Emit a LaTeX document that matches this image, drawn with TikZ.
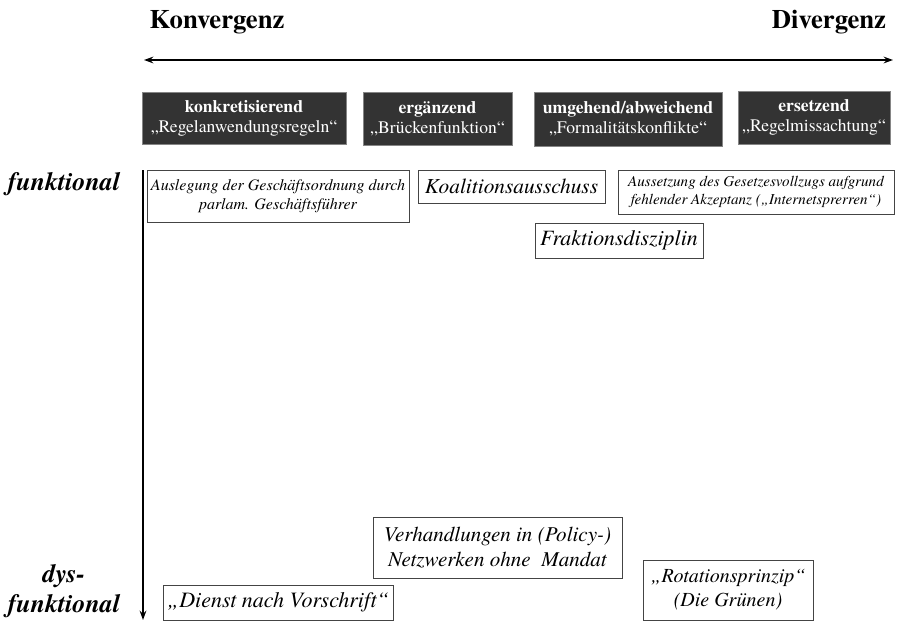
\documentclass[tikz,border=0pt]{standalone}
\usepackage{fontspec}
\setmainfont{texgyretermes}[Extension=.otf, UprightFont=*-regular, BoldFont=*-bold, ItalicFont=*-italic, BoldItalicFont=*-bolditalic]
\usetikzlibrary{arrows.meta}
\definecolor{darkbox}{HTML}{333333}
\definecolor{frame}{HTML}{444444}
\tikzset{
  catbox/.style 2 args={fill=darkbox, draw=darkbox!60, line width=0.5pt, text=white, align=center, inner sep=0pt,
    minimum width=#1*0.75pt, minimum height=#2*0.75pt, font=\fontsize{13.2}{15}\selectfont},
  itembox/.style 2 args={draw=frame, line width=0.6pt, align=center, inner sep=0pt,
    minimum width=#1*0.75pt, minimum height=#2*0.75pt, font=\itshape},
  headline/.style={font=\bfseries\fontsize{20}{24}\selectfont},
  sidelabel/.style={font=\bfseries\itshape\fontsize{19.4}{22}\selectfont, align=center},
  axis/.style={line width=1.5pt, -{Stealth[length=7pt,width=5pt]}},
  axisboth/.style={line width=1.5pt, {Stealth[length=7pt,width=5pt]}-{Stealth[length=7pt,width=5pt]}}
}
\begin{document}
\begin{tikzpicture}[x=0.75pt,y=-0.75pt]
\useasboundingbox (0,0) rectangle (897,621);
\node[headline] (konv) at (217,22) {Konvergenz};
\node[headline] (div) at (829,22) {Divergenz};
\coordinate (hl) at (144,60);
\coordinate (hr) at (893,60);
\draw[axisboth] (hl) -- (hr);

\node[catbox={204}{52}] (k1) at (244,118) {\textbf{konkretisierend}\\„Regelanwendungsregeln“};
\node[catbox={149}{53}] (k2) at (437.5,118.5) {\textbf{ergänzend}\\„Brückenfunktion“};
\node[catbox={188}{54}] (k3) at (628,119) {\textbf{umgehend/abweichend}\\„Formalitätskonflikte“};
\node[catbox={152}{53}] (k4) at (814,117.5) {\textbf{ersetzend}\\„Regelmissachtung“};

\coordinate (vt) at (143,170);
\coordinate (vb) at (143,620);
\draw[axis] (vt) -- (vb);

\node[sidelabel] (fu) at (64,184) {funktional};
\node[sidelabel] (dys) at (64,591) {dys-\\funktional};

\node[itembox={262}{52}, font=\itshape\fontsize{12}{14.5}\selectfont] (ausl) at (278,196)
  {Auslegung der Geschäftsordnung durch\\parlam. Geschäftsführer};
\node[itembox={187}{33}, font=\itshape\fontsize{16}{18}\selectfont] (koal) at (511.5,186.5) {Koalitionsausschuss};
\node[itembox={168}{35}, font=\itshape\fontsize{16.4}{19}\selectfont] (frak) at (619,240.5) {Fraktionsdisziplin};
\node[itembox={276}{44}, font=\itshape\fontsize{11.3}{14}\selectfont] (auss) at (756,192)
  {Aussetzung des Gesetzesvollzugs aufgrund\\fehlender Akzeptanz („Internetsprerren“)};
\node[itembox={249}{61}, font=\itshape\fontsize{15.8}{19}\selectfont] (verh) at (497.5,547.5)
  {Verhandlungen in (Policy-)\\Netzwerken ohne\ \ Mandat};
\node[itembox={230}{35}, font=\itshape\fontsize{16.5}{19}\selectfont] (dien) at (278,602.5) {„Dienst nach Vorschrift“};
\node[itembox={170}{60}, font=\itshape\fontsize{15}{18}\selectfont] (rota) at (728,590)
  {„Rotationsprinzip“\\(Die Grünen)};
\end{tikzpicture}
\end{document}
